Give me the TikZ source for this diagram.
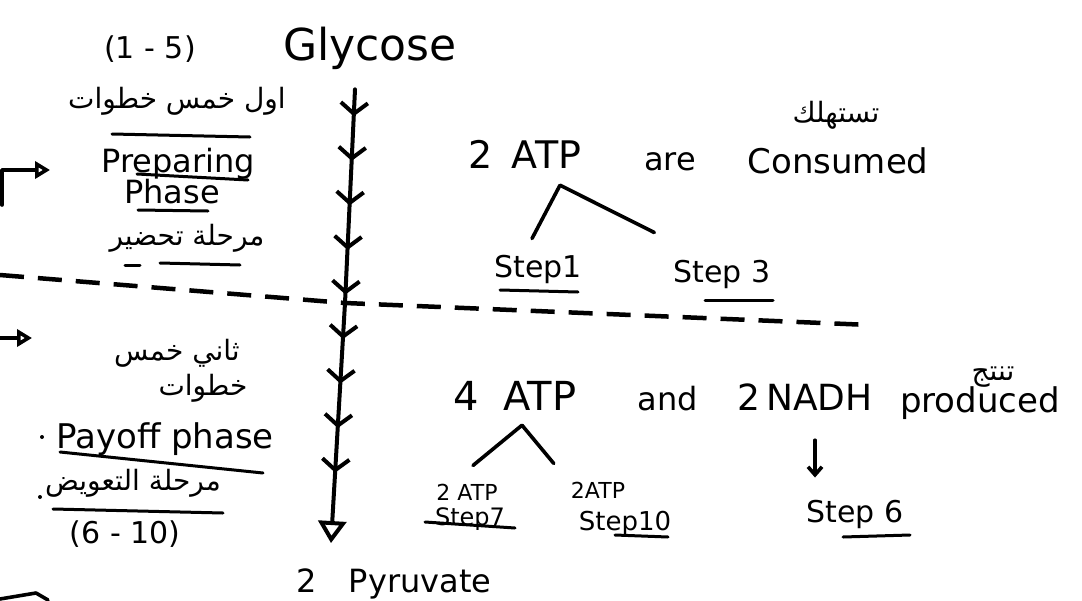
\documentclass[tikz,border=0pt]{standalone}
\usepackage{fontspec}
\setmainfont{DejaVu Sans}
\newfontfamily\arabicfont[Script=Arabic]{DejaVu Sans}
\TeXXeTstate=1
\usetikzlibrary{arrows.meta,decorations.markings}

\begin{document}
\begin{tikzpicture}[x=1pt,y=-1pt,
    hand/.style={anchor=base,inner sep=2pt,font=\fontsize{#1}{#1}\selectfont},
    artext/.style={anchor=base,inner sep=2pt,font=\arabicfont\fontsize{#1}{#1}\selectfont},
    pen/.style={line width=3.6pt,line cap=round,line join=round},
    uline/.style={line width=3pt,line cap=round},
    divider/.style={line width=4.5pt,dash pattern=on 24pt off 14pt},
    flow/.style={pen,line width=4pt,-{Triangle[open,length=22pt,width=28pt]},
      decoration={markings,mark=between positions 27pt and 385pt step 44.6pt
        with {\arrow{Straight Barb[length=11pt,width=27pt]}}},
      postaction={decorate}}]
    \useasboundingbox (0,0) rectangle (1082,600);

    % Top half: preparing phase
    \node[hand=30] (rangeA) at (150,58) {(1 - 5)};
    \node[hand=44] (glycose) at (370,60) {Glycose};
    \node[artext=28] (firstAr) at (177,108) {\beginR اول خمس خطوات\endR};
    \node[hand=32] (prep) at (178,172) {Preparing};
    \node[hand=32] (phaseA) at (172,203) {Phase};
    \node[artext=28] (prepAr) at (187,245) {\beginR مرحلة تحضير\endR};
    \node[hand=38] (atpA) at (525,168) {2\hspace{.5em}ATP};
    \node[hand=32] (are) at (670,170) {are};
    \node[hand=34] (consumed) at (838,173) {Consumed};
    \node[artext=28] (consAr) at (836,122) {\beginR تستهلك\endR};
    \node[hand=30] (step1) at (538,277) {Step1};
    \node[hand=30] (step3) at (722,282) {Step 3};

    % Bottom half: payoff phase
    \node[artext=28] (secondAr) at (177,360) {\beginR ثاني خمس\endR};
    \node[artext=28] (stepsAr) at (203,395) {\beginR خطوات\endR};
    \node[hand=34] (payoff) at (165,448) {Payoff phase};
    \node[artext=28] (payAr) at (133,490) {\beginR مرحلة التعويض\endR};
    \node[hand=30] (rangeB) at (125,543) {(6 - 10)};
    \node[hand=40] (atpB) at (515,410) {4\hspace{.6em}ATP};
    \node[hand=32] (andw) at (668,410) {and};
    \node[hand=36] (nadh) at (805,410) {2\,NADH};
    \node[hand=34] (produced) at (980,412) {produced};
    \node[artext=28] (prodAr) at (993,380) {\beginR تنتج\endR};
    \node[hand=22] (atpC) at (467,500) {2 ATP};
    \node[hand=22] (atpD) at (598,498) {2ATP};
    \node[hand=24] (step7) at (470,525) {Step7};
    \node[hand=26] (step10) at (625,530) {Step10};
    \node[hand=30] (step6) at (855,522) {Step 6};
    \node[hand=32] (pyruvate) at (394,592) {2\hspace{1em}Pyruvate};

    % Main pathway and phase divider
    \coordinate (flowTop) at ([xshift=-15pt,yshift=-18pt]glycose.south);
    \coordinate (cross) at (345,303);
    \coordinate (flowEnd) at ([xshift=-63pt,yshift=23pt]pyruvate.north);
    \coordinate (divL) at (0,275);
    \coordinate (divR) at (870,325);
    \draw[divider] (divL) -- (cross) -- (divR);
    \draw[flow] (flowTop) -- (cross) -- (flowEnd);

    % ATP trees
    \coordinate (apexA) at ([xshift=35pt,yshift=-15pt]atpA.south);
    \draw[pen] ([xshift=-6pt,yshift=14pt]step1.north) -- (apexA)
        -- ([xshift=-17pt,yshift=25pt]step3.north west);
    \coordinate (apexB) at ([xshift=7pt,yshift=-13pt]atpB.south);
    \draw[pen] ([xshift=6pt,yshift=16pt]atpC.north) -- (apexB)
        -- ([xshift=-15pt,yshift=16pt]atpD.north west);
    \draw[pen,-{Straight Barb[length=8pt,width=14pt]}]
        ([xshift=10pt,yshift=-28pt]nadh.south) -- ([xshift=-40pt,yshift=20pt]step6.north);

    % Underlines
    \draw[uline] (112,134) -- (250,137);
    \draw[uline] (137,174) -- (248,180);
    \draw[uline] (138,210) -- (208,211);
    \draw[uline] (125,265) -- (140,265);
    \draw[uline] (160,263) -- (240,265);
    \draw[uline] (500,290) -- (578,292);
    \draw[uline] (705,300) -- (773,300);
    \draw[uline] (60,452) -- (263,473);
    \draw[uline] (53,509) -- (223,513);
    \draw[uline] (425,522) -- (515,528);
    \draw[uline] (615,535) -- (668,537);
    \draw[uline] (843,537) -- (910,535);

    % Arrows coming in from the left
    \coordinate (inA) at (2,205);
    \coordinate (prepIn) at (50,170);
    \draw[pen,-{Triangle[open,length=15pt,width=17pt]}] (inA) |- (prepIn);
    \coordinate (inB) at (0,338);
    \coordinate (payIn) at (32,338);
    \draw[pen,-{Triangle[open,length=15pt,width=17pt]}] (inB) -- (payIn);
    \draw[pen] (0,599) -- (36,593) -- (48,600);
    \fill (42,437) circle (2);
    \fill (40,497) circle (2);
\end{tikzpicture}
\end{document}
